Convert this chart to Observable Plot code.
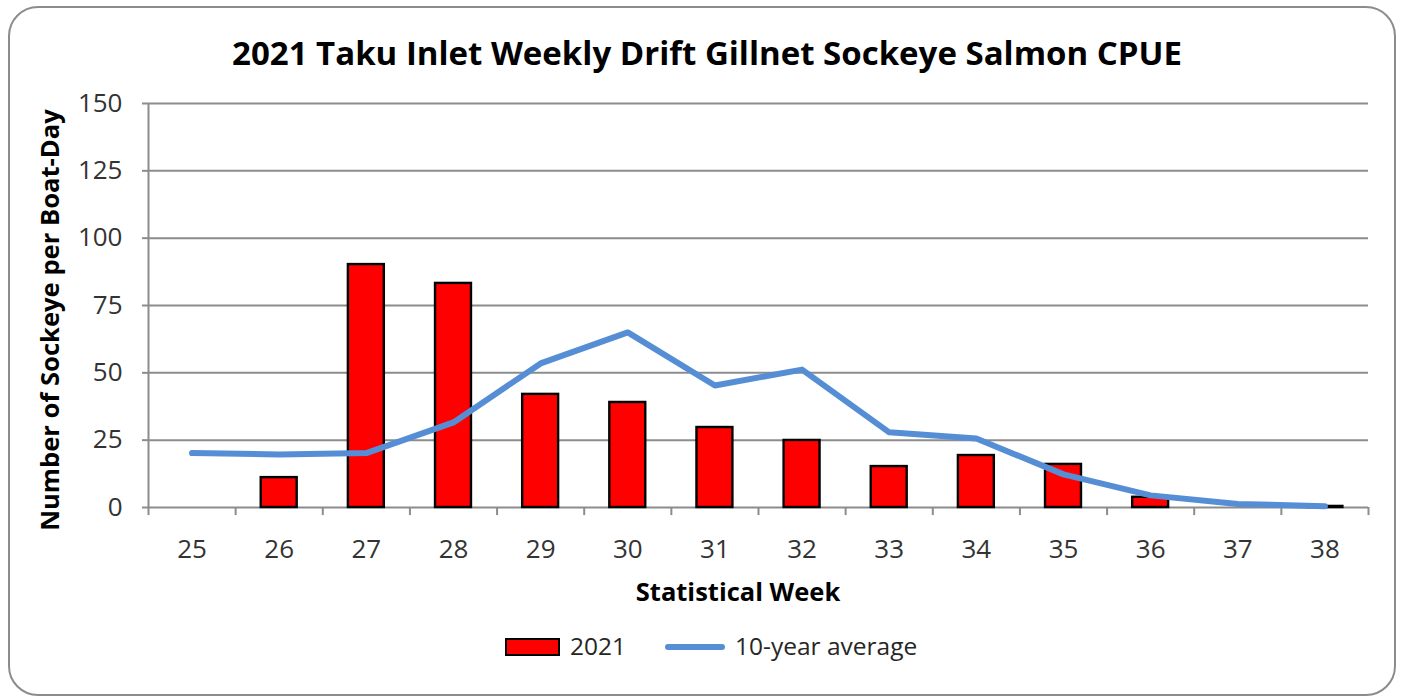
<!DOCTYPE html>
<html><head><meta charset="utf-8">
<script src="https://cdn.jsdelivr.net/npm/d3@7"></script>
<script src="https://cdn.jsdelivr.net/npm/@observablehq/plot@0.6"></script>
<style>
body{margin:0;background:#fff;font-family:"Open Sans",sans-serif;}
#wrap{position:relative;width:1402px;height:700px;overflow:hidden;background:#fff;}
#border{position:absolute;left:8px;top:6px;width:1384px;height:686px;border:2px solid #8c8c8c;border-radius:30px;box-sizing:content-box;}
#chart{position:absolute;left:0;top:0;}
#title{position:absolute;left:0;width:1414px;top:36px;text-align:center;font-weight:700;font-size:33px;line-height:1;color:#000;white-space:nowrap;}
#ylabel{position:absolute;left:50px;top:320px;transform:translate(-50%,-50%) rotate(-90deg);font-weight:700;font-size:25.6px;line-height:1;color:#000;white-space:nowrap;}
#xlabel{position:absolute;left:738px;top:592px;transform:translate(-50%,-50%);font-weight:700;font-size:25.5px;line-height:1;color:#000;white-space:nowrap;}
.leg{position:absolute;font-size:24.5px;line-height:1;color:#262626;white-space:nowrap;}
#sw1{position:absolute;left:505px;top:638px;width:51px;height:14px;background:#ff0000;border:2px solid #000;}
#sw2{position:absolute;left:665px;top:644px;width:60px;height:6px;background:#558ED5;border-radius:3px;}
</style></head><body>
<div id="wrap">
  <div id="border"></div>
  <div id="chart"></div>
  <div id="title"></div>
  <div id="ylabel"></div>
  <div id="xlabel"></div>
  <div id="sw1"></div><div class="leg" id="lt1" style="left:570px;top:634px;"></div>
  <div id="sw2"></div><div class="leg" id="lt2" style="left:735px;top:634px;"></div>
</div>
<script>
const titleText = "2021 Taku Inlet Weekly Drift Gillnet Sockeye Salmon CPUE";
const yLabel = "Number of Sockeye per Boat-Day";
const xLabel = "Statistical Week";
const seriesNames = ["2021", "10-year average"];
const weeks = [25, 26, 27, 28, 29, 30, 31, 32, 33, 34, 35, 36, 37, 38];
const cpue2021 = [0, 11.1, 90.2, 83.2, 42, 39, 29.7, 24.9, 15.2, 19.3, 16, 3.8, 0, 0.4];
const avg10yr = [20.2, 19.7, 20.2, 31.6, 53.5, 65, 45.3, 51.2, 27.9, 25.6, 12.3, 4.5, 1.3, 0.5];
const yTicks = [0, 25, 50, 75, 100, 125, 150];

document.getElementById("title").textContent = titleText;
document.getElementById("ylabel").textContent = yLabel;
document.getElementById("xlabel").textContent = xLabel;
document.getElementById("lt1").textContent = seriesNames[0];
document.getElementById("lt2").textContent = seriesNames[1];

const data = weeks.map((w, i) => ({week: w, v: cpue2021[i], avg: avg10yr[i]}));
const boundaries = weeks.map(w => w - 0.5).concat([weeks[weeks.length - 1] + 0.5]);
const xDomain = [boundaries[0], boundaries[boundaries.length - 1]];
const grey = "#8c8c8c";

const chart = Plot.plot({
  width: 1402,
  height: 700,
  marginLeft: 148,
  marginRight: 34,
  marginTop: 103,
  marginBottom: 193,
  style: {background: "transparent", fontFamily: "Open Sans", overflow: "visible"},
  x: {type: "linear", domain: xDomain},
  y: {type: "linear", domain: [0, 150]},
  marks: [
    Plot.gridY({ticks: yTicks.slice(1), stroke: grey, strokeOpacity: 1, strokeWidth: 2}),
    Plot.ruleY([0], {x1: xDomain[0], x2: xDomain[1], stroke: grey, strokeWidth: 2}),
    Plot.ruleX(boundaries, {x: d => d, y1: 0, y2: -3, stroke: grey, strokeWidth: 2}),
    Plot.ruleX([xDomain[0]], {x: d => d, y1: 0, y2: 150, stroke: grey, strokeWidth: 2}),
    Plot.rectY(data.filter(d => d.v > 0), {
      x1: d => d.week - 0.5, x2: d => d.week + 0.5, y1: 0, y2: "v",
      insetLeft: 25.6, insetRight: 25.6,
      fill: "#ff0000", stroke: "#000", strokeWidth: 2.4
    }),
    Plot.lineY(data, {x: "week", y: "avg", stroke: "#558ED5", strokeWidth: 6,
      strokeLinecap: "round", strokeLinejoin: "round"}),
    Plot.axisY({ticks: yTicks, tickSize: 6, tickPadding: 20, stroke: grey, strokeWidth: 2,
      fill: "#333", fontSize: 26, label: null}),
    Plot.axisX({ticks: weeks, tickSize: 0, tickPadding: 32, fill: "#333", fontSize: 26,
      label: null, tickFormat: d => String(d)})
  ]
});
document.getElementById("chart").appendChild(chart);
</script>
</body></html>
